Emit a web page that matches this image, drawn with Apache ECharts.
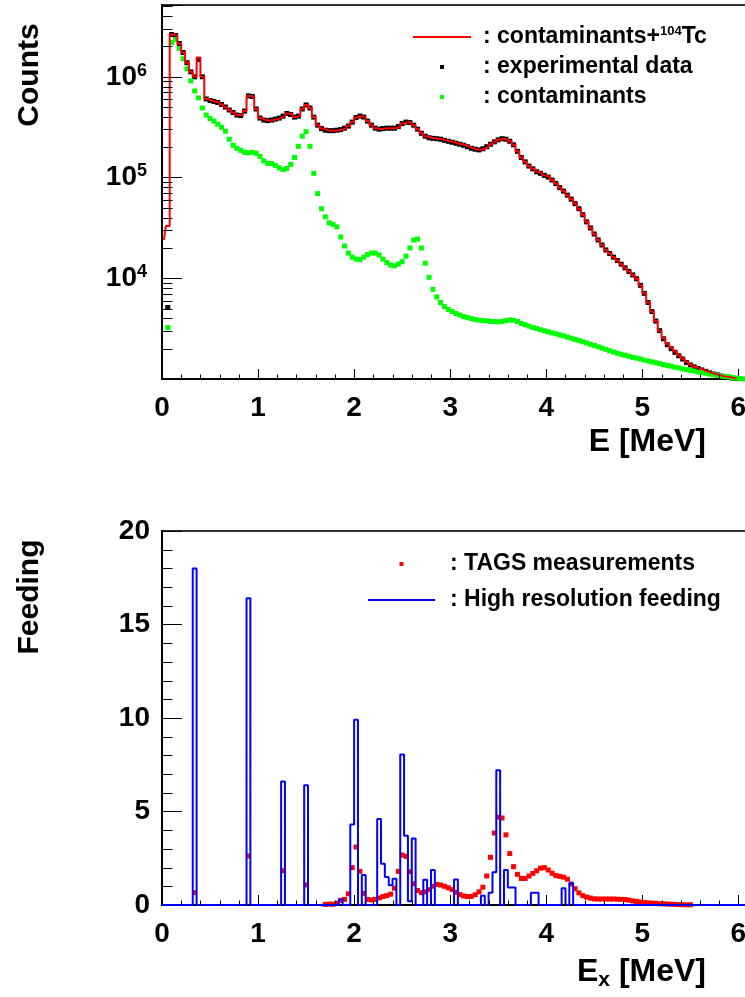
<!DOCTYPE html>
<html>
<head>
<meta charset="utf-8">
<title>104Tc spectrum and beta feeding</title>
<script src="https://cdn.jsdelivr.net/npm/echarts@6.0.0/dist/echarts.min.js"></script>
<style>
  html, body { margin: 0; padding: 0; background: #fff; }
  #chart { width: 745px; height: 997px; }
</style>
</head>
<body>
<div id="chart"></div>
<script>
// spectra are 40 keV bins, first bin centre at 0.02 MeV
var binWidth = 0.04;
var firstCenter = 0.02;

// red histogram: contaminants + 104Tc fit
var fitCounts = [
  2.4e4, 3.3e4, 2.63e6, 2.57e6, 2.14e6, 1.74e6, 1.38e6, 1.12e6, 1.00e6, 1.55e6,
  1.00e6, 6.03e5, 5.82e5, 5.69e5, 5.56e5, 5.31e5, 5.01e5, 4.68e5, 4.42e5, 4.17e5,
  4.12e5, 4.57e5, 6.46e5, 6.38e5, 4.79e5, 3.89e5, 3.72e5, 3.67e5, 3.72e5, 3.80e5,
  3.89e5, 4.07e5, 4.32e5, 4.22e5, 3.98e5, 4.07e5, 4.79e5, 5.25e5, 4.90e5, 3.98e5,
  3.31e5, 3.06e5, 2.95e5, 2.92e5, 2.92e5, 2.95e5, 2.99e5, 3.09e5, 3.24e5, 3.55e5,
  3.94e5, 4.07e5, 3.98e5, 3.63e5, 3.31e5, 3.09e5, 3.02e5, 3.06e5, 3.09e5, 3.09e5,
  3.09e5, 3.20e5, 3.43e5, 3.55e5, 3.51e5, 3.31e5, 3.02e5, 2.75e5, 2.57e5, 2.48e5,
  2.45e5, 2.43e5, 2.40e5, 2.34e5, 2.29e5, 2.24e5, 2.19e5, 2.14e5, 2.09e5, 2.02e5,
  1.95e5, 1.91e5, 1.88e5, 1.93e5, 2.02e5, 2.14e5, 2.26e5, 2.37e5, 2.43e5, 2.40e5,
  2.29e5, 2.11e5, 1.82e5, 1.58e5, 1.43e5, 1.30e5, 1.22e5, 1.14e5, 1.10e5, 1.05e5,
  1.01e5, 9.44e4, 8.71e4, 7.94e4, 7.33e4, 6.68e4, 6.10e4, 5.50e4, 4.90e4, 4.27e4,
  3.63e4, 3.16e4, 2.75e4, 2.40e4, 2.14e4, 1.91e4, 1.76e4, 1.62e4, 1.50e4, 1.38e4,
  1.27e4, 1.17e4, 1.08e4, 9.89e3, 8.51e3, 7.08e3, 5.75e3, 4.68e3, 3.76e3, 3.02e3,
  2.55e3, 2.24e3, 2.04e3, 1.87e3, 1.72e3, 1.60e3, 1.48e3, 1.39e3, 1.32e3, 1.27e3,
  1.23e3, 1.19e3, 1.15e3, 1.12e3, 1.10e3, 1.07e3, 1.05e3, 1.04e3, 1.02e3, 1.01e3
];

// black points: experimental data
var dataCounts = [
  null, 5.13e3, 2.63e6, 2.57e6, 2.14e6, 1.74e6, 1.38e6, 1.12e6, 1.00e6, 1.48e6,
  1.00e6, 6.03e5, 5.82e5, 5.69e5, 5.56e5, 5.31e5, 5.01e5, 4.68e5, 4.42e5, 4.17e5,
  4.12e5, 4.57e5, 6.46e5, 6.38e5, 4.79e5, 3.89e5, 3.72e5, 3.67e5, 3.72e5, 3.80e5,
  3.89e5, 4.07e5, 4.32e5, 4.22e5, 3.98e5, 4.07e5, 4.79e5, 5.25e5, 4.90e5, 3.98e5,
  3.31e5, 3.06e5, 2.95e5, 2.92e5, 2.92e5, 2.95e5, 2.99e5, 3.09e5, 3.24e5, 3.55e5,
  3.94e5, 4.07e5, 3.98e5, 3.63e5, 3.31e5, 3.09e5, 3.02e5, 3.06e5, 3.09e5, 3.09e5,
  3.09e5, 3.20e5, 3.43e5, 3.55e5, 3.51e5, 3.31e5, 3.02e5, 2.75e5, 2.57e5, 2.48e5,
  2.45e5, 2.43e5, 2.40e5, 2.34e5, 2.29e5, 2.24e5, 2.19e5, 2.14e5, 2.09e5, 2.02e5,
  1.95e5, 1.91e5, 1.88e5, 1.93e5, 2.02e5, 2.14e5, 2.26e5, 2.37e5, 2.43e5, 2.40e5,
  2.29e5, 2.11e5, 1.82e5, 1.58e5, 1.43e5, 1.30e5, 1.22e5, 1.14e5, 1.10e5, 1.05e5,
  1.01e5, 9.44e4, 8.71e4, 7.94e4, 7.33e4, 6.68e4, 6.10e4, 5.50e4, 4.90e4, 4.27e4,
  3.63e4, 3.16e4, 2.75e4, 2.40e4, 2.14e4, 1.91e4, 1.76e4, 1.62e4, 1.50e4, 1.38e4,
  1.27e4, 1.17e4, 1.08e4, 9.89e3, 8.51e3, 7.08e3, 5.75e3, 4.68e3, 3.76e3, 3.02e3,
  2.51e3, 2.19e3, 2.00e3, 1.84e3, 1.70e3, 1.58e3, 1.46e3, 1.38e3, 1.32e3, 1.27e3,
  1.23e3, 1.19e3, 1.15e3, 1.12e3, 1.10e3, 1.07e3, 1.05e3, 1.04e3, 1.02e3, 1.01e3
];

// green points: contaminants
var contamCounts = [
  null, 3.24e3, 2.19e6, 2.34e6, 1.91e6, 1.51e6, 1.20e6, 9.12e5, 7.24e5, 6.17e5,
  4.90e5, 4.17e5, 3.85e5, 3.63e5, 3.39e5, 3.16e5, 2.88e5, 2.40e5, 2.09e5, 1.95e5,
  1.86e5, 1.78e5, 1.76e5, 1.78e5, 1.74e5, 1.62e5, 1.46e5, 1.38e5, 1.38e5, 1.32e5,
  1.25e5, 1.20e5, 1.23e5, 1.35e5, 1.58e5, 2.04e5, 2.57e5, 2.85e5, 2.04e5, 1.10e5,
  6.92e4, 4.90e4, 4.07e4, 3.55e4, 3.43e4, 3.24e4, 2.57e4, 2.09e4, 1.78e4, 1.62e4,
  1.55e4, 1.53e4, 1.62e4, 1.72e4, 1.78e4, 1.78e4, 1.70e4, 1.55e4, 1.43e4, 1.35e4,
  1.33e4, 1.38e4, 1.46e4, 1.66e4, 2.00e4, 2.40e4, 2.45e4, 2.00e4, 1.41e4, 1.02e4,
  7.76e3, 6.53e3, 5.75e3, 5.25e3, 4.90e3, 4.68e3, 4.47e3, 4.32e3, 4.17e3, 4.07e3,
  3.98e3, 3.89e3, 3.85e3, 3.80e3, 3.78e3, 3.73e3, 3.72e3, 3.69e3, 3.72e3, 3.80e3,
  3.86e3, 3.82e3, 3.72e3, 3.55e3, 3.47e3, 3.35e3, 3.24e3, 3.16e3, 3.08e3, 3.01e3,
  2.94e3, 2.87e3, 2.81e3, 2.74e3, 2.68e3, 2.61e3, 2.54e3, 2.47e3, 2.41e3, 2.34e3,
  2.28e3, 2.21e3, 2.15e3, 2.09e3, 2.03e3, 1.97e3, 1.91e3, 1.85e3, 1.80e3, 1.76e3,
  1.72e3, 1.68e3, 1.64e3, 1.61e3, 1.58e3, 1.54e3, 1.51e3, 1.48e3, 1.45e3, 1.42e3,
  1.39e3, 1.36e3, 1.34e3, 1.31e3, 1.29e3, 1.26e3, 1.24e3, 1.22e3, 1.20e3, 1.17e3,
  1.16e3, 1.14e3, 1.12e3, 1.10e3, 1.09e3, 1.07e3, 1.06e3, 1.05e3, 1.03e3, 1.02e3,
  1.01e3, 1.00e3
];

// bottom pad: high resolution feeding, non-empty bins only (centre MeV, %)
var hrEnergy = [
  0.34, 0.90, 1.26, 1.50, 1.86, 1.98, 2.02, 2.10, 2.26, 2.30,
  2.34, 2.38, 2.42, 2.50, 2.54, 2.58, 2.62, 2.74, 2.82, 3.06,
  3.34, 3.42, 3.46, 3.50, 3.58, 3.62, 3.66, 3.86, 3.90, 4.18,
  4.26
];
var hrFeeding = [
  18.0, 16.4, 6.6, 6.4, 0.3, 4.3, 9.9, 1.6, 4.6, 2.2,
  1.5, 1.05, 1.4, 8.05, 3.7, 0.2, 3.55, 1.35, 1.87, 1.37,
  0.5, 0.66, 1.75, 7.2, 1.87, 0.93, 0.93, 0.66, 0.66, 0.89,
  1.16
];

// TAGS measurement points
var tagsEnergy = [
  0.34, 0.90, 1.26, 1.50,
  1.70, 1.74, 1.78, 1.82, 1.86, 1.90, 1.94, 1.98, 2.02, 2.06,
  2.10, 2.14, 2.18, 2.22, 2.26, 2.30, 2.34, 2.38, 2.42, 2.46,
  2.50, 2.54, 2.58, 2.62, 2.66, 2.70, 2.74, 2.78, 2.82, 2.86,
  2.90, 2.94, 2.98, 3.02, 3.06, 3.10, 3.14, 3.18, 3.22, 3.26,
  3.30, 3.34, 3.38, 3.42, 3.46, 3.50, 3.54, 3.58, 3.62, 3.66,
  3.70, 3.74, 3.78, 3.82, 3.86, 3.90, 3.94, 3.98, 4.02, 4.06,
  4.10, 4.14, 4.18, 4.22, 4.26, 4.30, 4.34, 4.38, 4.42, 4.46,
  4.50, 4.54, 4.58, 4.62, 4.66, 4.70, 4.74, 4.78, 4.82, 4.86,
  4.90, 4.94, 4.98, 5.02, 5.06, 5.10, 5.14, 5.18, 5.22, 5.26,
  5.30, 5.34, 5.38, 5.42, 5.46, 5.50
];
var tagsFeeding = [
  0.66, 2.62, 1.83, 1.07,
  0.03, 0.05, 0.04, 0.10, 0.25, 0.30, 0.60, 2.00, 3.10, 1.80,
  0.62, 0.30, 0.27, 0.30, 0.38, 0.45, 0.50, 0.58, 0.90, 1.80,
  2.67, 2.60, 1.78, 1.14, 0.78, 0.66, 0.70, 0.82, 1.00, 1.10,
  1.07, 1.00, 0.92, 0.82, 0.68, 0.56, 0.48, 0.45, 0.46, 0.55,
  0.70, 0.95, 1.55, 2.55, 3.85, 4.70, 4.65, 3.75, 2.75, 2.05,
  1.64, 1.42, 1.42, 1.55, 1.69, 1.83, 1.97, 2.00, 1.87, 1.70,
  1.58, 1.53, 1.49, 1.38, 1.12, 0.87, 0.65, 0.50, 0.42, 0.37,
  0.33, 0.32, 0.32, 0.32, 0.32, 0.32, 0.31, 0.30, 0.29, 0.26,
  0.22, 0.19, 0.16, 0.13, 0.11, 0.10, 0.09, 0.07, 0.06, 0.05,
  0.04, 0.03, 0.02, 0.02, 0.01, 0.01
];

// axis ranges
var xMax = 6.1;
var countsMin = 1e3;
var countsMax = 5.16e6;
var feedMax = 20;
var hrBinCount = 152;

var FONT = '"Liberation Sans", Arial, sans-serif';

function binned(values) {
  var out = [];
  for (var i = 0; i < values.length; i++) {
    if (values[i] == null) continue;
    out.push([+(firstCenter + i * binWidth).toFixed(2), values[i]]);
  }
  return out;
}

// full step histogram from the non-empty bins
var hrHist = [[0, 0]];
for (var i = 0; i < hrBinCount; i++) {
  var c = +(firstCenter + i * binWidth).toFixed(2);
  var k = hrEnergy.indexOf(c);
  hrHist.push([c, k >= 0 ? hrFeeding[k] : 0]);
}
hrHist.push([xMax, 0]);

var tagsPoints = tagsEnergy.map(function (e, j) { return [e, tagsFeeding[j]]; });

// minor tick positions (ROOT style: 2..9 per decade on log axis)
var xMinor = [];
for (var t = 1; t < 30; t++) if (t % 5) xMinor.push(t / 5);
var logMinor = [];
[1e3, 1e4, 1e5, 1e6].forEach(function (d) {
  for (var m = 2; m <= 9; m++) if (m * d < countsMax) logMinor.push(m * d);
});
var feedMinor = [];
for (var f = 1; f < feedMax; f++) if (f % 5) feedMinor.push(f);

function tickSeries(gridIndex, yBase, yMinor) {
  var marks = xMinor.map(function (v) { return [v, yBase, 0]; })
    .concat(yMinor.map(function (v) { return [0, v, 1]; }));
  return {
    type: 'custom',
    xAxisIndex: gridIndex,
    yAxisIndex: gridIndex,
    silent: true,
    z: 4,
    data: marks,
    renderItem: function (params, api) {
      var p = api.coord([api.value(0), api.value(1)]);
      var x = Math.round(p[0]) + 0.5, y = Math.round(p[1]) + 0.5;
      var shape = api.value(2) === 0
        ? { x1: x, y1: y, x2: x, y2: y - 5 }
        : { x1: x, y1: y, x2: x + 10, y2: y };
      return { type: 'line', shape: shape, style: { stroke: '#000', lineWidth: 1 } };
    }
  };
}

function xAxisFor(gridIndex) {
  return {
    type: 'value',
    gridIndex: gridIndex,
    min: 0,
    max: xMax,
    interval: 1,
    axisLine: { show: true, onZero: false, lineStyle: { color: '#000', width: 2 } },
    axisTick: { show: true, inside: true, length: 10, lineStyle: { color: '#000', width: 1 } },
    minorTick: { show: false },
    splitLine: { show: false },
    axisLabel: {
      show: true, margin: 15, color: '#000', hideOverlap: false,
      fontFamily: FONT, fontWeight: 'bold', fontSize: 28,
      formatter: function (v) { return Math.abs(v - Math.round(v)) < 1e-9 ? String(Math.round(v)) : ''; }
    }
  };
}

function legendText(padLeft) {
  return {
    fontFamily: FONT, fontWeight: 'bold', fontSize: 23, color: '#000',
    lineHeight: 26, padding: [0, 0, 0, padLeft],
    rich: { sup: { fontFamily: FONT, fontWeight: 'bold', fontSize: 13, lineHeight: 12, padding: [0, 0, 12, 0], color: '#000' } }
  };
}
function legendLabel(name) {
  return ': ' + name.replace('104', '{sup|104}');
}

var chart = echarts.init(document.getElementById('chart'), null, { renderer: 'canvas' });

var option = {
  animation: false,
  backgroundColor: '#fff',
  grid: [
    { left: 162, top: 5, right: -3, height: 374, show: true, borderColor: '#333', borderWidth: 2, backgroundColor: 'transparent', outerBoundsMode: 'none' },
    { left: 162, top: 531, right: -3, height: 374, show: true, borderColor: '#333', borderWidth: 2, backgroundColor: 'transparent', outerBoundsMode: 'none' }
  ],
  xAxis: [xAxisFor(0), xAxisFor(1)],
  yAxis: [
    {
      type: 'log', logBase: 10, gridIndex: 0, min: countsMin, max: countsMax,
      axisLine: { show: true, onZero: false, lineStyle: { color: '#000', width: 2 } },
      axisTick: { show: true, inside: true, length: 20, lineStyle: { color: '#000', width: 1 } },
      minorTick: { show: false },
      splitLine: { show: false },
      axisLabel: {
        show: true, margin: 15, color: '#000', hideOverlap: false,
        fontFamily: FONT, fontWeight: 'bold', fontSize: 28, lineHeight: 30,
        formatter: function (v) {
          var e = Math.log10(v), r = Math.round(e);
          if (Math.abs(e - r) > 1e-6 || r < 4) return '';
          return '10{sup|' + r + '}';
        },
        rich: { sup: { fontFamily: FONT, fontWeight: 'bold', fontSize: 18, lineHeight: 18, padding: [0, 0, 12, 0], color: '#000' } }
      }
    },
    {
      type: 'value', gridIndex: 1, min: 0, max: feedMax, interval: 5,
      axisLine: { show: true, onZero: false, lineStyle: { color: '#000', width: 2 } },
      axisTick: { show: true, inside: true, length: 20, lineStyle: { color: '#000', width: 1 } },
      minorTick: { show: false },
      splitLine: { show: false },
      axisLabel: {
        show: true, margin: 12, color: '#000', hideOverlap: false,
        fontFamily: FONT, fontWeight: 'bold', fontSize: 28
      }
    }
  ],
  legend: [
    {
      left: 413, top: 24, orient: 'vertical', padding: 0, selectedMode: false,
      itemWidth: 58, itemHeight: 4, itemGap: 4, symbolKeepAspect: true,
      data: [{ name: 'contaminants+104Tc', icon: 'path://M0,0h58v2h-58z', itemStyle: { color: '#ff0000', borderWidth: 0 } }],
      formatter: legendLabel, textStyle: legendText(7)
    },
    {
      // box is laid out from the visible square, so shift by half the free icon width
      left: 440, top: 54, orient: 'vertical', padding: 0, selectedMode: false,
      itemWidth: 58, itemHeight: 4, itemGap: 4, symbolKeepAspect: true,
      data: [
        { name: 'experimental data', icon: 'path://M0,0h4v4h-4z', itemStyle: { color: '#000', borderWidth: 0 } },
        { name: 'contaminants', icon: 'path://M0,0h4v4h-4z', itemStyle: { color: '#00ff00', borderWidth: 0 } }
      ],
      formatter: legendLabel, textStyle: legendText(7)
    },
    {
      left: 368, top: 551, orient: 'vertical', padding: 0, selectedMode: false,
      itemWidth: 67, itemHeight: 4, itemGap: 10, symbolKeepAspect: true,
      data: [
        { name: 'TAGS measurements', icon: 'path://M0,0h4v4h-4z', itemStyle: { color: '#ff0000', borderWidth: 0 } },
        { name: 'High resolution feeding', icon: 'path://M0,0h67v2h-67z', itemStyle: { color: '#0000ff', borderWidth: 0 } }
      ],
      formatter: legendLabel, textStyle: legendText(10)
    }
  ],
  graphic: [
    { type: 'text', x: 30, y: 75, rotation: Math.PI / 2, silent: true,
      style: { text: 'Counts', fill: '#000', fontFamily: FONT, fontWeight: 'bold', fontSize: 30, align: 'center', verticalAlign: 'middle' } },
    { type: 'text', x: 30, y: 597, rotation: Math.PI / 2, silent: true,
      style: { text: 'Feeding', fill: '#000', fontFamily: FONT, fontWeight: 'bold', fontSize: 30, align: 'center', verticalAlign: 'middle' } },
    { type: 'text', x: 706, y: 442, silent: true,
      style: { text: 'E [MeV]', fill: '#000', fontFamily: FONT, fontWeight: 'bold', fontSize: 32, align: 'right', verticalAlign: 'middle' } },
    { type: 'text', x: 706, y: 972, silent: true,
      style: {
        text: 'E{sub|x} [MeV]', fill: '#000', fontFamily: FONT, fontWeight: 'bold', fontSize: 32, align: 'right', verticalAlign: 'middle',
        rich: { sub: { fontFamily: FONT, fontWeight: 'bold', fontSize: 21, lineHeight: 14, padding: [16, 0, 0, 0], fill: '#000' } }
      } }
  ],
  series: [
    {
      name: 'contaminants+104Tc', type: 'line', xAxisIndex: 0, yAxisIndex: 0,
      step: 'middle', symbol: 'none', showSymbol: false,
      lineStyle: { color: '#ff0000', width: 2 }, itemStyle: { color: '#ff0000' },
      data: binned(fitCounts)
    },
    {
      name: 'experimental data', type: 'scatter', xAxisIndex: 0, yAxisIndex: 0,
      symbol: 'rect', symbolSize: 5, itemStyle: { color: '#000', opacity: 1 },
      data: binned(dataCounts)
    },
    {
      name: 'contaminants', type: 'scatter', xAxisIndex: 0, yAxisIndex: 0,
      symbol: 'rect', symbolSize: 5, itemStyle: { color: '#00ff00', opacity: 1 },
      data: binned(contamCounts)
    },
    tickSeries(0, countsMin, logMinor),
    {
      name: 'TAGS measurements', type: 'scatter', xAxisIndex: 1, yAxisIndex: 1,
      symbol: 'rect', symbolSize: 5, itemStyle: { color: '#ff0000', opacity: 1 },
      data: tagsPoints
    },
    {
      name: 'High resolution feeding', type: 'line', xAxisIndex: 1, yAxisIndex: 1,
      step: 'middle', symbol: 'none', showSymbol: false,
      lineStyle: { color: '#0000ff', width: 2 }, itemStyle: { color: '#0000ff' },
      data: hrHist
    },
    tickSeries(1, 0, feedMinor)
  ]
};

chart.setOption(option);
</script>
</body>
</html>
